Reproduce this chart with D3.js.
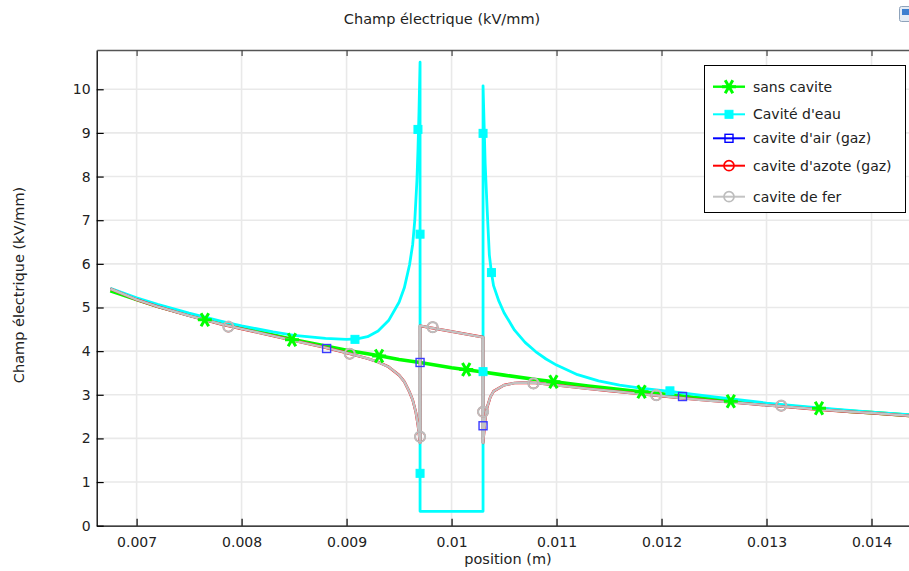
<!DOCTYPE html>
<html><head><meta charset="utf-8">
<script src="https://cdn.jsdelivr.net/npm/d3@7"></script>
<style>body{margin:0;background:#fff}svg{display:block}text{font-family:"DejaVu Sans",sans-serif;fill:#222}</style>
</head><body><svg id="c" width="909" height="571"></svg>
<script>
// ---------- data ----------
const chartTitle = "Champ électrique (kV/mm)";
const xTitle = "position (m)";
const yTitle = "Champ électrique (kV/mm)";
const xTicks = [0.007, 0.008, 0.009, 0.010, 0.011, 0.012, 0.013, 0.014];
const xTickLabels = ["0.007", "0.008", "0.009", "0.01", "0.011", "0.012", "0.013", "0.014"];
const yTicks = [0, 1, 2, 3, 4, 5, 6, 7, 8, 9, 10];
const seriesNames = ["sans cavite", "Cavité d'eau", "cavite d'air (gaz)", "cavite d'azote (gaz)", "cavite de fer"];

// sans cavite
const sansCaviteX = [0.00675,0.0070,0.0072,0.0075,0.0078,0.0080,0.0083,0.0085,0.0088,0.0090,0.0093,0.0095,0.0097,0.0100,0.0103,0.0105,0.0108,0.0110,0.0113,0.0115,0.0118,0.0120,0.0123,0.0125,0.0128,0.0130,0.0133,0.0135,0.0138,0.0140,0.0144];
const sansCaviteE = [5.38,5.18,5.03,4.83,4.64,4.53,4.37,4.26,4.12,4.02,3.90,3.81,3.74,3.62,3.52,3.45,3.35,3.29,3.20,3.15,3.07,3.02,2.94,2.90,2.83,2.78,2.72,2.68,2.62,2.59,2.52];
const sansCaviteMarkX = [0.00765,0.00848,0.00931,0.01014,0.01097,0.01181,0.01266,0.0135];
const sansCaviteMarkE = [4.72,4.26,3.89,3.58,3.30,3.07,2.85,2.69];

// cavite d'eau
const eauX = [0.00675,0.0070,0.0072,0.0075,0.0078,0.0080,0.0083,0.0085,0.0088,0.0090,0.0091,0.0092,0.0093,0.0094,0.0095,0.00955,0.0096,0.00963,0.00965,0.00967,0.00968,0.00969,0.0097,
  0.0097,0.0103,
  0.0103,0.01031,0.01032,0.01034,0.01036,0.01038,0.0104,0.01045,0.0105,0.0106,0.0107,0.0108,0.0109,0.0110,0.0112,0.0114,0.0116,0.0118,0.0121,0.0125,0.0130,0.0135,0.0140,0.0144];
const eauE = [5.44,5.22,5.07,4.87,4.69,4.58,4.44,4.36,4.29,4.27,4.28,4.33,4.46,4.70,5.12,5.45,5.98,6.45,7.0,7.9,8.6,9.5,10.62,
  0.33,0.33,
  10.08,9.2,8.3,7.2,6.2,5.8,5.5,5.15,4.88,4.48,4.20,3.99,3.82,3.68,3.46,3.32,3.22,3.15,3.07,2.95,2.81,2.70,2.60,2.54];
const eauMarkX = [0.00908,0.00968,0.0097,0.0097,0.0103,0.0103,0.01038,0.01208];
const eauMarkE = [4.27,9.08,6.68,1.20,3.53,8.99,5.8,3.09];

// cavites gaz / fer (curves coincide on the picture)
const gazX = [0.00675,0.0070,0.0072,0.0075,0.0078,0.0080,0.0083,0.0085,0.0088,0.0090,0.0092,0.0093,0.0094,0.0095,0.00955,0.0096,0.00963,0.00966,0.00968,0.00969,0.0097,
  0.0097,0.0103,
  0.0103,0.01031,0.01032,0.01033,0.01034,0.01037,0.0104,0.0105,0.0106,0.0107,0.0108,0.0110,0.0113,0.0115,0.0118,0.0120,0.0123,0.0125,0.0128,0.0130,0.0133,0.0135,0.0138,0.0140,0.0144];
const gazE = [5.43,5.18,5.02,4.81,4.62,4.51,4.35,4.24,4.08,3.96,3.83,3.75,3.64,3.45,3.30,3.06,2.88,2.60,2.30,2.10,1.90,
  4.58,4.32,
  1.90,2.15,2.40,2.60,2.72,2.95,3.08,3.22,3.27,3.28,3.27,3.22,3.14,3.09,3.02,2.97,2.90,2.86,2.80,2.76,2.70,2.66,2.61,2.58,2.51];
const airX = gazX, airE = gazE;
const azoteX = gazX, azoteE = gazE;
const ferX = gazX, ferE = gazE;
const airMarkX = [0.00881,0.0097,0.0103,0.0122];
const airMarkE = [4.06,3.74,2.29,2.96];
const ferMarkX = [0.007874,0.00903,0.0097,0.00982,0.0103,0.01078,0.01195,0.01314];
const ferMarkE = [4.56,3.94,2.04,4.55,2.61,3.26,2.99,2.75];
const azoteMarkX = ferMarkX, azoteMarkE = ferMarkE;

// ---------- drawing ----------
const svg = d3.select("#c");
const L = 96.7, T = 50, B = 525.7, R = 924;
const x = d3.scaleLinear().domain([0.00662, 0.0145]).range([L, R]);
const y = d3.scaleLinear().domain([0, 10.9]).range([B, T]);

svg.append("defs").append("clipPath").attr("id", "clip")
  .append("rect").attr("x", L).attr("y", T).attr("width", R - L).attr("height", B - T);

// grid
const grid = svg.append("g");
grid.selectAll(".gx").data(xTicks).join("line")
  .attr("x1", d => x(d)).attr("x2", d => x(d)).attr("y1", T).attr("y2", B)
  .attr("stroke", "#e9e9e9").attr("stroke-width", 1.6);
grid.selectAll(".gy").data(yTicks.slice(1)).join("line")
  .attr("x1", L).attr("x2", R).attr("y1", d => y(d)).attr("y2", d => y(d))
  .attr("stroke", "#e9e9e9").attr("stroke-width", 1.6);

// axes
const fmtX = d => xTickLabels[xTicks.indexOf(d)];
const axB = svg.append("g").attr("transform", `translate(0,${B})`)
  .call(d3.axisBottom(x).tickValues(xTicks).tickFormat(fmtX).tickSizeInner(-7).tickSizeOuter(0).tickPadding(11));
const axL = svg.append("g").attr("transform", `translate(${L},0)`)
  .call(d3.axisLeft(y).tickValues(yTicks).tickFormat(d3.format("d")).tickSizeInner(-7).tickSizeOuter(0).tickPadding(6));
const axT = svg.append("g").attr("transform", `translate(0,${T})`)
  .call(d3.axisTop(x).tickValues(xTicks).tickFormat("").tickSizeInner(-6).tickSizeOuter(0));
[axB, axL].forEach(a => {
  a.select(".domain").attr("stroke", "#000").attr("stroke-width", 1.3);
  a.selectAll(".tick line").attr("stroke", "#000").attr("stroke-width", 1.2);
  a.selectAll(".tick text").attr("font-size", 14).attr("fill", "#222").attr("font-family", "DejaVu Sans");
});
axT.select(".domain").attr("stroke", "#555").attr("stroke-width", 1.5);
axT.selectAll(".tick line").attr("stroke", "#444").attr("stroke-width", 1.2);

// titles
svg.append("text").attr("x", 442).attr("y", 24).attr("text-anchor", "middle").attr("font-size", 14.5).text(chartTitle);
svg.append("text").attr("x", 508).attr("y", 564).attr("text-anchor", "middle").attr("font-size", 14.5).text(xTitle);
svg.append("text").attr("transform", "translate(24,285) rotate(-90)").attr("text-anchor", "middle").attr("font-size", 14.5).text(yTitle);

// lines
const line = d3.line().x(d => x(d[0])).y(d => y(d[1]));
const zip = (a, b) => a.map((v, i) => [v, b[i]]);
const plot = svg.append("g").attr("clip-path", "url(#clip)");
const series = [
  {xs: sansCaviteX, es: sansCaviteE, color: "#00ff00", w: 3.6},
  {xs: eauX, es: eauE, color: "#00ffff", w: 2.8},
  {xs: airX, es: airE, color: "#0000ff", w: 1.8},
  {xs: azoteX, es: azoteE, color: "#ff0000", w: 2.7},
  {xs: ferX, es: ferE, color: "#c2c2c2", w: 2.5}
];
series.forEach(s => {
  plot.append("path").datum(zip(s.xs, s.es)).attr("d", line)
    .attr("fill", "none").attr("stroke", s.color).attr("stroke-width", s.w)
    .attr("stroke-linejoin", "round").attr("stroke-linecap", "butt");
});

// markers
const asterisk = "M-7,0H7M-3.8,-6.5L3.8,6.5M-3.8,6.5L3.8,-6.5";
function drawAst(g, cx, cy) {
  g.append("path").attr("d", asterisk).attr("transform", `translate(${cx},${cy})`)
    .attr("stroke", "#00ff00").attr("stroke-width", 3).attr("fill", "none");
}
function drawSq(g, cx, cy, filled, color) {
  g.append("rect").attr("x", cx - 4).attr("y", cy - 4).attr("width", 8).attr("height", 8)
    .attr("fill", filled ? color : "none").attr("stroke", color).attr("stroke-width", filled ? 1 : 1.4);
}
function drawCirc(g, cx, cy, color, w) {
  g.append("circle").attr("cx", cx).attr("cy", cy).attr("r", 5)
    .attr("fill", "none").attr("stroke", color).attr("stroke-width", w || 1.7);
}
const mk = plot.append("g");
sansCaviteMarkX.forEach((v, i) => drawAst(mk, x(v), y(sansCaviteMarkE[i])));
eauMarkX.forEach((v, i) => drawSq(mk, x(v), y(eauMarkE[i]), true, "#00ffff"));
airMarkX.forEach((v, i) => drawSq(mk, x(v), y(airMarkE[i]), false, "#3a3aff"));
azoteMarkX.forEach((v, i) => drawCirc(mk, x(v), y(azoteMarkE[i]), "#ff0000", 1.4));
ferMarkX.forEach((v, i) => drawCirc(mk, x(v), y(ferMarkE[i]), "#bdbdbd", 2.2));

// legend
const lg = svg.append("g");
lg.append("rect").attr("x", 704.5).attr("y", 65.5).attr("width", 201).attr("height", 147)
  .attr("fill", "#fff").attr("stroke", "#000").attr("stroke-width", 1);
const rowsY = [86.7, 114.3, 138.3, 165.7, 196.7];
const legColors = ["#00ff00", "#00ffff", "#0000ff", "#ff0000", "#c3c3c3"];
seriesNames.forEach((name, i) => {
  const cy = rowsY[i];
  lg.append("line").attr("x1", 713).attr("x2", 745).attr("y1", cy).attr("y2", cy)
    .attr("stroke", legColors[i]).attr("stroke-width", i === 0 ? 2.4 : 2);
  if (i === 0) drawAst(lg, 729, cy);
  if (i === 1) drawSq(lg, 729, cy, true, "#00ffff");
  if (i === 2) drawSq(lg, 729, cy, false, "#0000ff");
  if (i === 3) drawCirc(lg, 729, cy, "#ff0000");
  if (i === 4) drawCirc(lg, 729, cy, "#bdbdbd");
  lg.append("text").attr("x", 753).attr("y", cy + 5).attr("font-size", 14).text(name);
});

// small toolbar icon (top-right, partially cut)
svg.append("rect").attr("x", 899.5).attr("y", 6.5).attr("width", 14).attr("height", 15).attr("rx", 2)
  .attr("fill", "#e4ecf5").attr("stroke", "#8ea3bb");
svg.append("rect").attr("x", 902).attr("y", 9).attr("width", 9).attr("height", 6).attr("fill", "#3d7fd0");
</script>
</body></html>
